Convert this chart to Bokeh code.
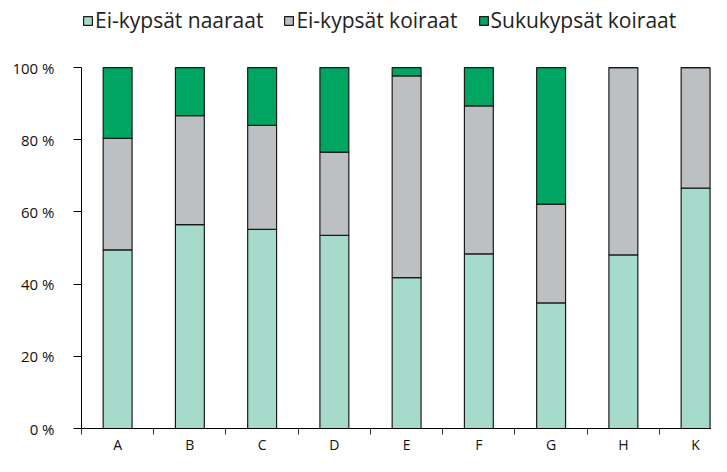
from bokeh.plotting import figure
from bokeh.models import Legend, LegendItem, FixedTicker, Range1d, PrintfTickFormatter, ColumnDataSource
from bokeh.embed import file_html
from bokeh.resources import INLINE

categories = ["A", "B", "C", "D", "E", "F", "G", "H", "K"]
naaraat = [49.5, 56.5, 55.2, 53.5, 41.8, 48.4, 34.8, 48.1, 66.6]
koiraat = [30.9, 30.2, 28.8, 23.1, 55.9, 41.0, 27.4, 51.9, 33.4]
suku = [19.6, 13.3, 16.0, 23.4, 2.3, 10.6, 37.8, 0.0, 0.0]
series_names = ["Ei-kypsät naaraat", "Ei-kypsät koiraat", "Sukukypsät koiraat"]
colors = ["#a6dbcc", "#bcc0c3", "#00a562"]
y_ticks = [0, 20, 40, 60, 80, 100]

x = [i + 0.5 for i in range(len(categories))]
src = ColumnDataSource(dict(x=x, n=naaraat, k=koiraat, s=suku))

FONT = "Open Sans"
p = figure(width=711, height=456, output_backend="svg", toolbar_location=None,
           x_range=Range1d(0, 8.72), y_range=Range1d(0, 118.6),
           min_border_left=81, min_border_top=0, min_border_bottom=21, min_border_right=0)
p.outline_line_color = None
p.xgrid.grid_line_color = None
p.ygrid.grid_line_color = None

rs = p.vbar_stack(["n", "k", "s"], x="x", width=0.4, source=src, color=colors,
                  line_color="#1a1a1a", line_width=1.2)
for r, c in zip(rs, colors):
    r.glyph.fill_color = c
    r.glyph.line_color = "#1a1a1a"

p.yaxis.bounds = (0, 100)
p.yaxis.ticker = FixedTicker(ticks=y_ticks)
p.yaxis.formatter = PrintfTickFormatter(format="%d %%")
p.yaxis.major_tick_out = 8
p.yaxis.major_tick_in = 0
p.yaxis.minor_tick_out = 0
p.yaxis.major_label_standoff = 19
p.yaxis.major_label_text_font = FONT
p.yaxis.major_label_text_font_size = "15px"
p.yaxis.major_label_text_color = "#111111"
p.yaxis.axis_line_color = "black"
p.yaxis.major_tick_line_color = "black"

p.xaxis.ticker = FixedTicker(ticks=x, minor_ticks=list(range(len(categories) + 1)))
p.xaxis.major_label_overrides = {xi: c for xi, c in zip(x, categories)}
p.xaxis.major_tick_out = 0
p.xaxis.major_tick_in = 0
p.xaxis.minor_tick_out = 6
p.xaxis.minor_tick_in = 0
p.xaxis.minor_tick_line_color = "#333333"
p.xaxis.major_label_standoff = 0
p.xaxis.major_label_text_font = FONT
p.xaxis.major_label_text_font_size = "14px"
p.xaxis.major_label_text_color = "#111111"
p.xaxis.axis_line_color = "black"

legend = Legend(items=[LegendItem(label=n, renderers=[r]) for n, r in zip(series_names, rs)],
                orientation="horizontal", location=(1, 394),
                glyph_width=11, glyph_height=11, label_standoff=2, spacing=20,
                label_text_font=FONT, label_text_font_size="21px", label_text_color="#222222",
                border_line_color=None, background_fill_alpha=0, padding=0, margin=0)
p.add_layout(legend, "center")

open("out.html", "w").write(file_html(p, INLINE))
